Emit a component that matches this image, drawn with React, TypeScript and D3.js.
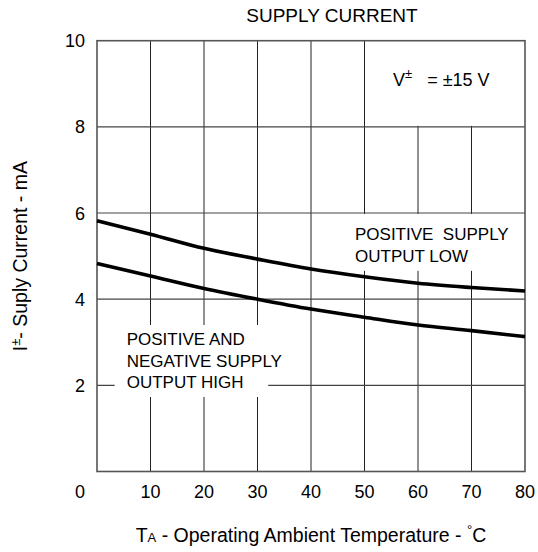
import React from "react";
import * as d3 from "d3";

const temps = [0, 10, 20, 30, 40, 50, 60, 70, 80];
const posLow = [5.82, 5.51, 5.18, 4.93, 4.7, 4.52, 4.37, 4.27, 4.19];
const bothHigh = [4.83, 4.54, 4.25, 4.0, 3.77, 3.58, 3.4, 3.27, 3.13];
const xTicks = [0, 10, 20, 30, 40, 50, 60, 70, 80];
const yTicks = [2, 4, 6, 8, 10];
const xGrid = [10, 20, 30, 40, 50, 60, 70];
const yGrid = [2, 4, 6, 8];

const W = 538;
const H = 552;
const FONT = "'Liberation Sans', Arial, Helvetica, sans-serif";

export default function App() {
  const x = d3.scaleLinear().domain([0, 80]).range([97, 525]);
  const y = d3.scaleLinear().domain([0, 10]).range([471.5, 40.7]);
  const line = d3
    .line<number>()
    .x((_, i) => x(temps[i]))
    .y((d) => y(d))
    .curve(d3.curveMonotoneX);

  return (
    <svg
      width={W}
      height={H}
      style={{ position: "absolute", left: 0, top: 0, background: "#fff" }}
      fontFamily={FONT}
    >
      <rect x={0} y={0} width={W} height={H} fill="#fff" />
      {/* grid */}
      {xGrid.map((t) => (
        <line key={"vx" + t} x1={x(t)} x2={x(t)} y1={y(0)} y2={y(10)} stroke="#222" strokeWidth={1} />
      ))}
      {yGrid.map((t) => (
        <line key={"hy" + t} x1={x(0)} x2={x(80)} y1={y(t)} y2={y(t)} stroke="#444" strokeWidth={1.2} />
      ))}
      {/* label backgrounds */}
      <rect x={x(51.5)} y={y(10)} width={x(80) - x(51.5)} height={y(8) - y(10) - 1} fill="#fff" />
      <rect x={x(46)} y={y(6) + 1} width={x(80) - x(46)} height={y(4.68) - y(6)} fill="#fff" />
      <rect x={x(3.3)} y={y(3.4)} width={x(35.5) - x(3.3)} height={y(2.5) - y(3.4)} fill="#fff" />
      <rect x={x(3.3)} y={y(2.5)} width={x(32) - x(3.3)} height={y(1.73) - y(2.5)} fill="#fff" />
      {/* frame */}
      <rect x={x(0)} y={y(10)} width={x(80) - x(0)} height={y(0) - y(10)} fill="none" stroke="#555" strokeWidth={1.6} />
      {/* curves */}
      <path d={line(posLow) || ""} fill="none" stroke="#000" strokeWidth={3.6} />
      <path d={line(bothHigh) || ""} fill="none" stroke="#000" strokeWidth={3.6} />
      {/* ticks labels */}
      {yTicks.map((t) => (
        <text key={"yt" + t} x={85} y={y(t)} dy="0.36em" textAnchor="end" fontSize={18} fill="#000">
          {t}
        </text>
      ))}
      {xTicks.map((t) => (
        <text key={"xt" + t} x={t === 0 ? x(t) - 17 : x(t)} y={498} textAnchor="middle" fontSize={18} fill="#000">
          {t}
        </text>
      ))}
      {/* title */}
      <text x={332} y={22} textAnchor="middle" fontSize={19} fill="#000">
        SUPPLY CURRENT
      </text>
      {/* axis labels */}
      <text x={(x(0) + x(80)) / 2} y={541.7} textAnchor="middle" fontSize={19.5} fill="#000">
        T<tspan fontSize={13}>A</tspan> - Operating Ambient Temperature - <tspan fontSize={13} dy={-8}>°</tspan>
        <tspan dy={8}>C</tspan>
      </text>
      <text transform={`translate(27,${(y(0) + y(10)) / 2}) rotate(-90)`} textAnchor="middle" fontSize={19.5} fill="#000">
        I<tspan fontSize={13} dy={-7}>±</tspan>
        <tspan dy={7}>- Suply Current - mA</tspan>
      </text>
      {/* annotations */}
      <text x={393} y={86} fontSize={18} fill="#000" style={{ whiteSpace: "pre" }}>
        V<tspan fontSize={13} dy={-8}>±</tspan>
        <tspan dy={8}>{"   = ±15 V"}</tspan>
      </text>
      <text fontSize={17} fill="#000" style={{ whiteSpace: "pre" }}>
        <tspan x={355} y={240}>{"POSITIVE  SUPPLY"}</tspan>
        <tspan x={355} y={261.7}>OUTPUT LOW</tspan>
      </text>
      <text fontSize={17} fill="#000">
        <tspan x={126.7} y={345}>POSITIVE AND</tspan>
        <tspan x={126.7} y={366.5}>NEGATIVE SUPPLY</tspan>
        <tspan x={126.7} y={387.7}>OUTPUT HIGH</tspan>
      </text>
    </svg>
  );
}
